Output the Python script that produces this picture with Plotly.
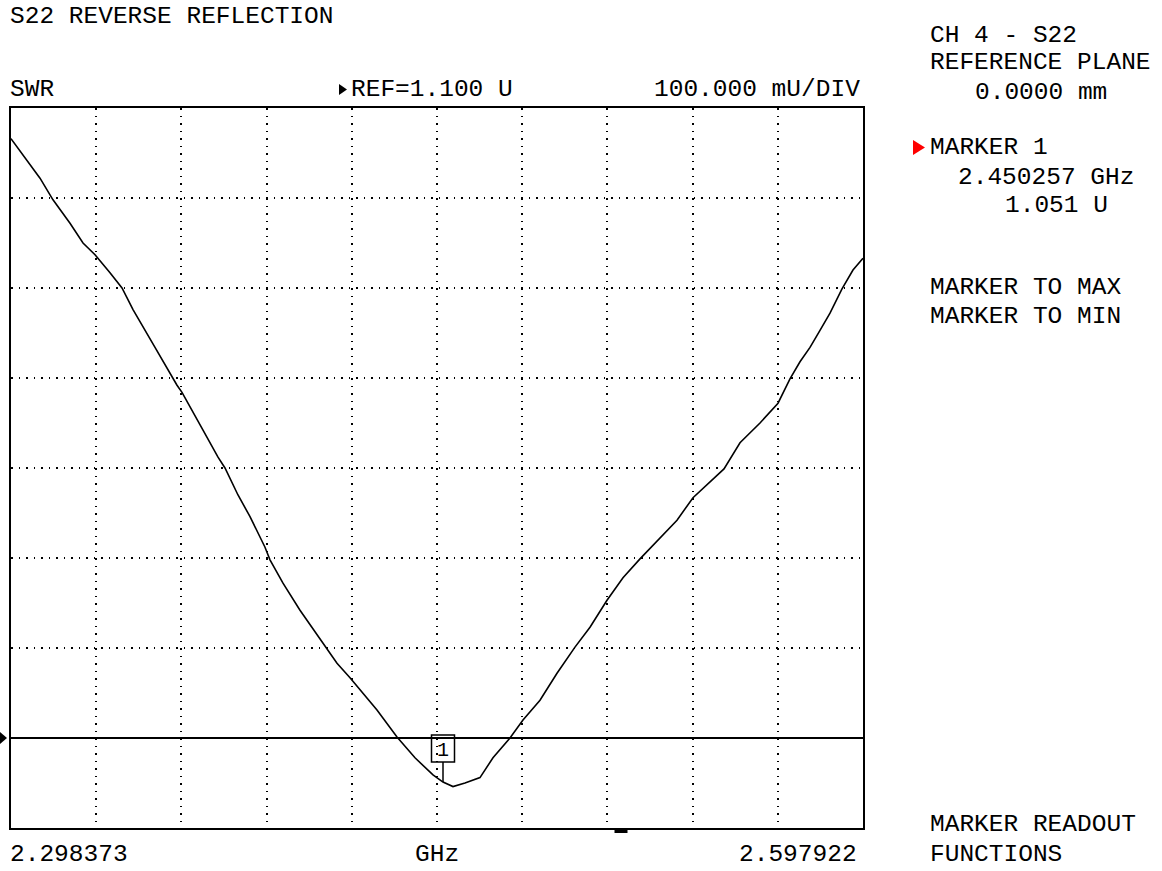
import plotly.graph_objects as go

# ---- data ----
freq_ghz = [2.29837, 2.30857, 2.31314, 2.31912, 2.32369, 2.32791, 2.33318, 2.33740,
            2.34127, 2.34619, 2.34900, 2.35674, 2.35849, 2.36588, 2.37115, 2.37361,
            2.37818, 2.38240, 2.38767, 2.38943, 2.39400, 2.39998, 2.40420, 2.40947,
            2.41299, 2.41756, 2.42213, 2.42705, 2.43408, 2.44041, 2.44674, 2.45026,
            2.45377, 2.45799, 2.46326, 2.46783, 2.47381, 2.47838, 2.48436, 2.49034,
            2.49666, 2.50194, 2.50792, 2.51354, 2.51952, 2.52760, 2.53253, 2.53815,
            2.54905, 2.55468, 2.56171, 2.56804, 2.57225, 2.57577, 2.57929, 2.58280,
            2.58632, 2.59054, 2.59440, 2.59792]
swr = [1.766, 1.722, 1.698, 1.672, 1.650, 1.637, 1.617, 1.600,
       1.576, 1.550, 1.534, 1.492, 1.484, 1.442, 1.412, 1.400,
       1.370, 1.346, 1.312, 1.298, 1.272, 1.242, 1.223, 1.200,
       1.183, 1.167, 1.150, 1.131, 1.101, 1.078, 1.059, 1.051,
       1.046, 1.050, 1.056, 1.078, 1.100, 1.120, 1.142, 1.172,
       1.201, 1.223, 1.253, 1.278, 1.299, 1.326, 1.342, 1.367,
       1.399, 1.428, 1.450, 1.472, 1.499, 1.518, 1.534, 1.553,
       1.572, 1.599, 1.620, 1.633]

start_ghz = 2.298373
stop_ghz = 2.597922
ref_value = 1.100
scale_per_div = 0.100
y_bottom = 1.000
n_xdiv = 10
n_ydiv = 8
marker_freq = 2.450257
marker_swr = 1.051
aux_marker_freq = 2.51284

title_text = "S22 REVERSE REFLECTION"
format_text = "SWR"
ref_text = "REF=1.100 U"
scale_text = "100.000 mU/DIV"
start_label = "2.298373"
unit_label = "GHz"
stop_label = "2.597922"
side_lines = ["CH 4 - S22", "REFERENCE PLANE", "0.0000 mm", "MARKER 1",
              "2.450257 GHz", "1.051 U", "MARKER TO MAX", "MARKER TO MIN",
              "MARKER READOUT", "FUNCTIONS"]

# ---- geometry (pixels) ----
W, H = 1162, 871
PL, PR, PT, PB = 11, 863, 108, 828
FONT = "Liberation Mono"
FS = 24.5


def px(x):
    return (x - PL) / (PR - PL)


def py(y):
    return (PB - y) / (PB - PT)


ghz_per_px = (stop_ghz - start_ghz) / (PR - PL)
u_per_px = scale_per_div * n_ydiv / (PB - PT)

fig = go.Figure()
fig.add_trace(go.Scatter(x=freq_ghz, y=swr, mode="lines",
                         line=dict(color="black", width=1.6),
                         hoverinfo="skip"))

annots = []


def txt(s, x, y, anchor="left", color="black", size=FS, xref="paper", yref="paper"):
    annots.append(dict(text=s, x=x, y=y, xref=xref, yref=yref, xanchor=anchor,
                       yanchor="middle", showarrow=False, borderpad=0,
                       font=dict(family=FONT, size=size, color=color)))


txt(title_text, px(9), py(16.5))
txt(format_text, px(9), py(89.5))
txt(ref_text, px(350), py(89.5))
txt(scale_text, px(861), py(89.5), anchor="right")
txt(start_label, px(9), py(854))
txt(unit_label, px(414), py(854))
txt(stop_label, px(858), py(854), anchor="right")

side_pos = [(929, 35.5), (929, 62.5), (974, 92.5), (929, 147.5), (957, 177.5),
            (1004, 205.5), (929, 287.5), (929, 316), (929, 824), (929, 854)]
for s, (x, y) in zip(side_lines, side_pos):
    txt(s, px(x), py(y))

# marker label "1" inside the box
txt("1", marker_freq, ref_value - 12 * u_per_px, anchor="center", size=20,
    xref="x", yref="y")

shapes = []
# reference line
shapes.append(dict(type="line", xref="paper", yref="y", x0=0, x1=1,
                   y0=ref_value, y1=ref_value, line=dict(color="black", width=2)))
# reference arrow at left
shapes.append(dict(type="path", xref="paper", yref="paper",
                   path=f"M {px(0)} {py(732)} L {px(7)} {py(738)} L {px(0)} {py(744)} Z",
                   fillcolor="black", line=dict(width=0)))
# small arrow before REF text
shapes.append(dict(type="path", xref="paper", yref="paper",
                   path=f"M {px(339)} {py(84)} L {px(347)} {py(89.5)} L {px(339)} {py(95)} Z",
                   fillcolor="black", line=dict(width=0)))
# red active-marker arrow
shapes.append(dict(type="path", xref="paper", yref="paper",
                   path=f"M {px(913)} {py(140)} L {px(925)} {py(147.5)} L {px(913)} {py(155)} Z",
                   fillcolor="#ff0000", line=dict(width=0)))
# marker box
bx = 11.5 * ghz_per_px
box_top = ref_value + 3 * u_per_px
box_bot = ref_value - 24 * u_per_px
shapes.append(dict(type="rect", xref="x", yref="y",
                   x0=marker_freq - bx, x1=marker_freq + bx, y0=box_bot, y1=box_top,
                   line=dict(color="black", width=1.5)))
shapes.append(dict(type="line", xref="x", yref="y", x0=marker_freq, x1=marker_freq,
                   y0=box_bot, y1=marker_swr, line=dict(color="black", width=1.5)))
# small dash under the bottom border
shapes.append(dict(type="rect", xref="x", yref="paper",
                   x0=aux_marker_freq - 6.5 * ghz_per_px, x1=aux_marker_freq + 6.5 * ghz_per_px,
                   y0=py(833), y1=py(829), fillcolor="black", line=dict(width=0)))

axis_common = dict(showticklabels=False, ticks="", showgrid=True, gridcolor="black",
                   gridwidth=1.5, griddash="1.5px,6px", zeroline=False, showline=True,
                   mirror=True, linecolor="black", linewidth=2, fixedrange=True)

fig.update_layout(
    width=W, height=H,
    margin=dict(l=PL, r=W - PR, t=PT, b=H - PB, pad=0),
    paper_bgcolor="white", plot_bgcolor="white",
    showlegend=False,
    xaxis=dict(range=[start_ghz, stop_ghz], tick0=start_ghz,
               dtick=(stop_ghz - start_ghz) / n_xdiv, **axis_common),
    yaxis=dict(range=[y_bottom, y_bottom + scale_per_div * n_ydiv], tick0=y_bottom,
               dtick=scale_per_div, **axis_common),
    annotations=annots,
    shapes=shapes,
)

fig.write_html("out.html", config={"displayModeBar": False},
               post_script="document.body.style.margin='0px';")
